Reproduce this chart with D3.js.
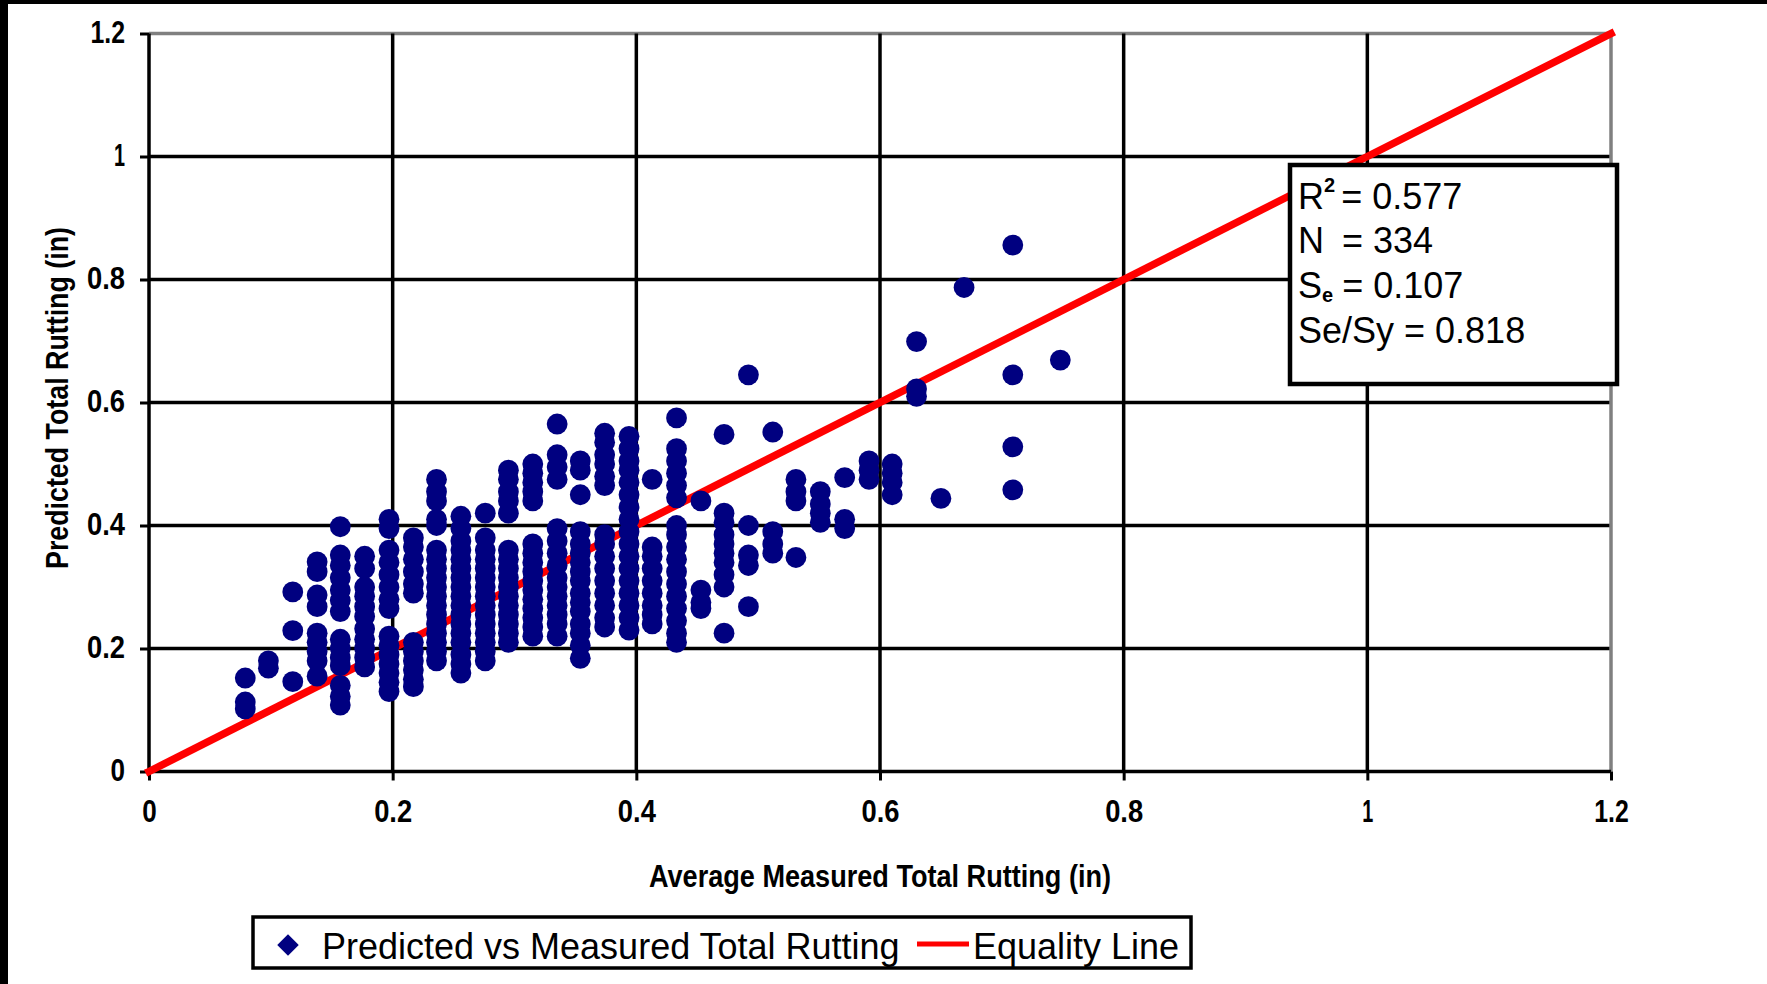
<!DOCTYPE html>
<html lang="en">
<head>
    <meta charset="UTF-8">
    <title>Predicted vs Measured Total Rutting</title>
    <style>
        body { margin: 0; background: #fff; }
        svg { display: block; font-family: "Liberation Sans", Arial, sans-serif; }
    </style>
</head>
<body>

<svg width="1767" height="984"></svg>

<script src="https://cdn.jsdelivr.net/npm/d3@7"></script>

<script>
    // axis ticks
    var tickVals = [0, 0.2, 0.4, 0.6, 0.8, 1, 1.2];
    var tickLabels = ["0", "0.2", "0.4", "0.6", "0.8", "1", "1.2"];

    // measured rutting (in), one entry per column of points
    var measured = [0.079, 0.098, 0.118, 0.138, 0.157, 0.177, 0.197, 0.217, 0.236, 0.256,
        0.276, 0.295, 0.315, 0.335, 0.354, 0.374, 0.394, 0.413, 0.433, 0.453,
        0.472, 0.492, 0.512, 0.531, 0.551, 0.571, 0.591, 0.610, 0.630, 0.650,
        0.669, 0.709, 0.748];

    // predicted rutting (in) for each measured column
    var predicted = [
        [0.152, 0.113, 0.102],
        [0.18, 0.168],
        [0.292, 0.229, 0.146],
        [0.341, 0.325, 0.287, 0.268, 0.225, 0.21, 0.195, 0.18, 0.155],
        [0.398, 0.352, 0.335, 0.315, 0.295, 0.278, 0.26, 0.215, 0.2, 0.185, 0.172, 0.14, 0.122, 0.108],
        [0.35, 0.33, 0.3, 0.285, 0.268, 0.252, 0.232, 0.215, 0.2, 0.185, 0.17],
        [0.41, 0.395, 0.36, 0.34, 0.32, 0.3, 0.28, 0.265, 0.22, 0.205, 0.19, 0.175, 0.16, 0.145, 0.13],
        [0.38, 0.365, 0.345, 0.325, 0.305, 0.29, 0.21, 0.195, 0.18, 0.165, 0.15, 0.138],
        [0.475, 0.455, 0.44, 0.41, 0.4, 0.36, 0.345, 0.33, 0.315, 0.3, 0.285, 0.27, 0.255, 0.24, 0.225, 0.21, 0.195, 0.18],
        [0.415, 0.395, 0.375, 0.36, 0.345, 0.33, 0.315, 0.3, 0.285, 0.27, 0.255, 0.24, 0.225, 0.21, 0.19, 0.175, 0.16],
        [0.42, 0.38, 0.36, 0.345, 0.33, 0.315, 0.3, 0.285, 0.27, 0.255, 0.24, 0.225, 0.21, 0.195, 0.18],
        [0.49, 0.475, 0.455, 0.44, 0.42, 0.36, 0.345, 0.33, 0.315, 0.3, 0.285, 0.27, 0.255, 0.24, 0.225, 0.21],
        [0.5, 0.485, 0.47, 0.455, 0.44, 0.37, 0.355, 0.34, 0.325, 0.31, 0.295, 0.28, 0.265, 0.25, 0.235, 0.22],
        [0.565, 0.515, 0.495, 0.475, 0.395, 0.375, 0.355, 0.335, 0.315, 0.3, 0.285, 0.27, 0.255, 0.24, 0.22],
        [0.505, 0.49, 0.45, 0.39, 0.37, 0.355, 0.34, 0.325, 0.31, 0.29, 0.275, 0.26, 0.24, 0.225, 0.205, 0.184],
        [0.55, 0.535, 0.515, 0.5, 0.48, 0.465, 0.385, 0.37, 0.35, 0.33, 0.31, 0.29, 0.27, 0.25, 0.235],
        [0.545, 0.525, 0.505, 0.49, 0.47, 0.45, 0.43, 0.41, 0.39, 0.37, 0.35, 0.33, 0.31, 0.29, 0.27, 0.25, 0.23],
        [0.475, 0.365, 0.35, 0.33, 0.31, 0.29, 0.27, 0.255, 0.24],
        [0.575, 0.525, 0.505, 0.485, 0.465, 0.445, 0.4, 0.385, 0.365, 0.345, 0.325, 0.305, 0.285, 0.265, 0.245, 0.225, 0.21],
        [0.44, 0.295, 0.275, 0.265],
        [0.548, 0.42, 0.405, 0.385, 0.37, 0.355, 0.34, 0.32, 0.3, 0.225],
        [0.645, 0.4, 0.352, 0.335, 0.268],
        [0.552, 0.39, 0.37, 0.355],
        [0.475, 0.455, 0.44, 0.348],
        [0.455, 0.435, 0.42, 0.405],
        [0.478, 0.41, 0.395],
        [0.505, 0.49, 0.475],
        [0.5, 0.485, 0.47, 0.45],
        [0.699, 0.622, 0.61],
        [0.444],
        [0.787],
        [0.856, 0.645, 0.528, 0.458],
        [0.669]
    ];

    var equality = [0, 1.2];

    var svg = d3.select("svg");
    var W = +svg.attr("width"), H = +svg.attr("height");
    var plot = {left: 149, right: 1611, top: 33.5, bottom: 771.5};

    var x = d3.scaleLinear().domain([0, 1.2]).range([plot.left, plot.right]);
    var y = d3.scaleLinear().domain([0, 1.2]).range([plot.bottom, plot.top]);

    var points = [];
    measured.forEach(function (m, i) {
        predicted[i].forEach(function (p) { points.push({m: m, p: p}); });
    });

    // page frame
    svg.append("rect").attr("width", W).attr("height", H).attr("fill", "#fff");
    svg.append("rect").attr("width", 8).attr("height", H).attr("fill", "#000");
    svg.append("rect").attr("width", W).attr("height", 4).attr("fill", "#000");

    // gridlines
    var grid = svg.append("g");
    grid.selectAll(".h").data(tickVals.slice(1)).enter().append("line")
        .attr("x1", x(0)).attr("x2", x(1.2))
        .attr("y1", d => y(d)).attr("y2", d => y(d))
        .attr("stroke", d => d === 1.2 ? "#808080" : "#000")
        .attr("stroke-width", 3.5);
    grid.selectAll(".v").data(tickVals.slice(1)).enter().append("line")
        .attr("y1", y(0)).attr("y2", y(1.2))
        .attr("x1", d => x(d)).attr("x2", d => x(d))
        .attr("stroke", d => d === 1.2 ? "#808080" : "#000")
        .attr("stroke-width", 3.5);

    function labelWidth(s) {
        return d3.sum(s.split(""), c => c === "1" ? 11 : c === "." ? 9 : 14.5);
    }
    function fmt(d) { return tickLabels[tickVals.indexOf(d)]; }

    function styleAxis(g) {
        g.attr("font-family", null).attr("font-size", null);
        g.select(".domain").remove();
        g.selectAll(".tick line").attr("stroke", "#000").attr("stroke-width", 3);
        g.selectAll(".tick text")
            .attr("fill", "#000")
            .attr("font-size", 32)
            .attr("font-weight", "bold")
            .attr("textLength", d => labelWidth(fmt(d)))
            .attr("lengthAdjust", "spacingAndGlyphs");
    }

    var yAxis = svg.append("g")
        .attr("transform", `translate(${x(0)},0)`)
        .call(d3.axisLeft(y).tickValues(tickVals).tickFormat(fmt)
            .tickSize(9).tickSizeOuter(0).tickPadding(15));
    styleAxis(yAxis);
    yAxis.selectAll(".tick text").attr("dy", "0.28em");

    var xAxis = svg.append("g")
        .attr("transform", `translate(0,${y(0)})`)
        .call(d3.axisBottom(x).tickValues(tickVals).tickFormat(fmt)
            .tickSize(9).tickSizeOuter(0).tickPadding(19));
    styleAxis(xAxis);

    // axis lines
    svg.append("line").attr("x1", x(0)).attr("x2", x(0)).attr("y1", y(0)).attr("y2", y(1.2))
        .attr("stroke", "#000").attr("stroke-width", 3.5);
    svg.append("line").attr("x1", x(0)).attr("x2", x(1.2)).attr("y1", y(0)).attr("y2", y(0))
        .attr("stroke", "#000").attr("stroke-width", 3.5);

    // axis titles
    svg.append("text")
        .attr("x", x(0.6)).attr("y", 887)
        .attr("text-anchor", "middle")
        .attr("font-size", 32).attr("font-weight", "bold")
        .attr("textLength", 462).attr("lengthAdjust", "spacingAndGlyphs")
        .text("Average Measured Total Rutting (in)");

    svg.append("text")
        .attr("transform", "translate(68,398) rotate(-90)")
        .attr("text-anchor", "middle")
        .attr("font-size", 31).attr("font-weight", "bold")
        .attr("textLength", 342).attr("lengthAdjust", "spacingAndGlyphs")
        .text("Predicted Total Rutting (in)");

    // equality line
    var line = d3.line().x(d => x(d)).y(d => y(d));
    svg.append("path")
        .datum(equality)
        .attr("d", line)
        .attr("fill", "none")
        .attr("stroke", "#ff0000")
        .attr("stroke-width", 7.5)
        .attr("stroke-linecap", "square");

    // points
    var marker = d3.symbol().type(d3.symbolCircle).size(340);
    svg.append("g").selectAll("path").data(points).enter().append("path")
        .attr("transform", d => `translate(${x(d.m)},${y(d.p)})`)
        .attr("d", marker)
        .attr("fill", "#000080");

    // statistics box
    var stat = svg.append("g").attr("font-size", 36);
    stat.append("rect")
        .attr("x", 1290).attr("y", 165).attr("width", 327).attr("height", 219)
        .attr("fill", "#fff").attr("stroke", "#000").attr("stroke-width", 4.5);

    var t1 = stat.append("text").attr("x", 1298).attr("y", 209);
    t1.append("tspan").text("R");
    t1.append("tspan").attr("font-size", 20).attr("font-weight", "bold").attr("dy", -17).text("2");
    t1.append("tspan").attr("dy", 17).attr("dx", 6).text("= 0.577");

    var t2 = stat.append("text").attr("x", 1298).attr("y", 253);
    t2.append("tspan").text("N");
    t2.append("tspan").attr("dx", 18).text("= 334");

    var t3 = stat.append("text").attr("x", 1298).attr("y", 298);
    t3.append("tspan").text("S");
    t3.append("tspan").attr("font-size", 20).attr("font-weight", "bold").attr("dy", 4).text("e");
    t3.append("tspan").attr("dy", -4).attr("dx", 9).text("= 0.107");

    stat.append("text").attr("x", 1298).attr("y", 343).text("Se/Sy = 0.818");

    // legend
    var legend = svg.append("g").attr("font-size", 36);
    legend.append("rect")
        .attr("x", 253).attr("y", 917).attr("width", 938).attr("height", 51)
        .attr("fill", "#fff").attr("stroke", "#000").attr("stroke-width", 3.5);
    legend.append("path")
        .attr("transform", "translate(288,945) rotate(45)")
        .attr("d", d3.symbol().type(d3.symbolSquare).size(230))
        .attr("fill", "#000080");
    legend.append("text").attr("x", 322).attr("y", 959).text("Predicted vs Measured Total Rutting");
    legend.append("line")
        .attr("x1", 917).attr("x2", 969).attr("y1", 944).attr("y2", 944)
        .attr("stroke", "#ff0000").attr("stroke-width", 5);
    legend.append("text").attr("x", 973).attr("y", 959).text("Equality Line");
</script>
</body>
</html>
